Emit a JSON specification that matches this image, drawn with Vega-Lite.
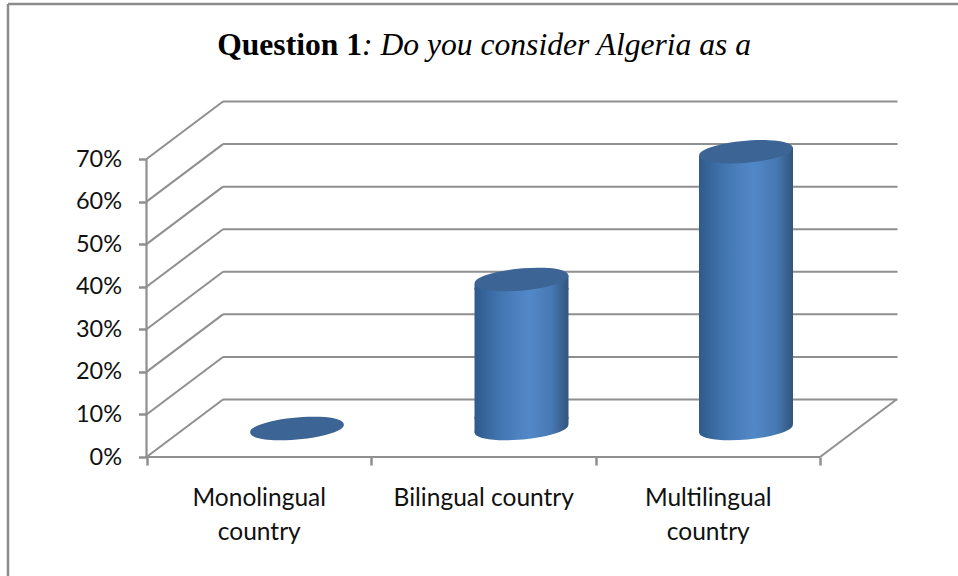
{
  "$schema": "https://vega.github.io/schema/vega-lite/v6.json",
  "width": 958,
  "height": 576,
  "autosize": "none",
  "padding": 0,
  "background": "white",
  "view": {"stroke": null},
  "config": {"font": "Lato"},
  "datasets": {
    "answers": [
      {"category": "Monolingual country", "slot": 0.5, "share": 0},
      {"category": "Bilingual country", "slot": 1.5, "share": 35},
      {"category": "Multilingual country", "slot": 2.5, "share": 65}
    ],
    "levels": [
      {"pct": 0}, {"pct": 10}, {"pct": 20}, {"pct": 30},
      {"pct": 40}, {"pct": 50}, {"pct": 60}, {"pct": 70}
    ]
  },
  "layer": [
    {
      "description": "Back wall lines, pushed up and right by the chart depth",
      "data": {"name": "levels"},
      "mark": {"type": "rule", "color": "#8f8f8f", "strokeWidth": 2, "xOffset": 76.5, "x2Offset": 77.5, "yOffset": -57.5},
      "encoding": {
        "x": {"datum": 0, "type": "quantitative", "scale": {"domain": [-0.6526, 3.6147], "nice": false, "zero": false, "padding": 0},
          "axis": {
            "offset": -119, "orient": "bottom", "title": null, "grid": false, "domain": false,
            "values": [0, 0.5, 1, 1.5, 2, 2.5, 3],
            "tickSize": 8, "tickWidth": 2.5, "tickColor": "#8f8f8f",
            "tickOpacity": {"condition": {"test": "datum.value % 1 === 0", "value": 1}, "value": 0},
            "labelExpr": "datum.value == 0.5 ? ['Monolingual', 'country'] : datum.value == 1.5 ? 'Bilingual country' : datum.value == 2.5 ? ['Multilingual', 'country'] : ''",
            "labelFont": "Lato", "labelFontSize": 24.5, "labelColor": "#111111", "labelPadding": 21, "labelLineHeight": 34, "labelLimit": 400, "labelOverlap": false, "labelFlush": false, "labelBound": false
          }
        },
        "x2": {"datum": 3},
        "y": {"field": "pct", "type": "quantitative", "scale": {"domain": [-27.95, 107.35], "nice": false, "zero": false, "padding": 0},
          "axis": {
            "offset": -146.5, "orient": "left", "title": null, "grid": false, "domain": false,
            "values": [0, 10, 20, 30, 40, 50, 60, 70],
            "tickSize": 8, "tickWidth": 2.5, "tickColor": "#8f8f8f",
            "labelExpr": "datum.value + '%'",
            "labelFont": "Lato", "labelFontSize": 23.5, "labelColor": "#111111", "labelPadding": 17
          }
        }
      }
    },
    {
      "description": "Left wall slants from each front tick to the back wall",
      "data": {"name": "levels"},
      "mark": {"type": "rule", "color": "#8f8f8f", "strokeWidth": 2, "x2Offset": 76.5, "y2Offset": -57.5},
      "encoding": {
        "x": {"datum": 0, "type": "quantitative"},
        "x2": {"datum": 0},
        "y": {"field": "pct", "type": "quantitative"},
        "y2": {"field": "pct"}
      }
    },
    {
      "description": "Front edges of the wall and floor, and the right floor slant",
      "data": {"values": [{"pct": 0}]},
      "layer": [
        {
          "mark": {"type": "rule", "color": "#8f8f8f", "strokeWidth": 2.2},
          "encoding": {"x": {"datum": 0, "type": "quantitative"}, "y": {"datum": 0, "type": "quantitative"}, "y2": {"datum": 70}}
        },
        {
          "mark": {"type": "rule", "color": "#8f8f8f", "strokeWidth": 2.2},
          "encoding": {"x": {"datum": 0, "type": "quantitative"}, "x2": {"datum": 3}, "y": {"datum": 0, "type": "quantitative"}}
        },
        {
          "mark": {"type": "rule", "color": "#8f8f8f", "strokeWidth": 2, "x2Offset": 76.5, "y2Offset": -57.5},
          "encoding": {"x": {"datum": 3, "type": "quantitative"}, "x2": {"datum": 3}, "y": {"datum": 0, "type": "quantitative"}, "y2": {"datum": 0}}
        }
      ]
    },
    {
      "description": "Outer frame",
      "data": {"values": [{"pct": 0}]},
      "layer": [
        {
          "mark": {"type": "rule", "color": "#8c8c8c", "strokeWidth": 2.5},
          "encoding": {"x": {"datum": -0.617, "type": "quantitative"}, "y": {"datum": 106.4, "type": "quantitative"}, "y2": {"datum": -27.95}}
        },
        {
          "mark": {"type": "rule", "color": "#8c8c8c", "strokeWidth": 2.5},
          "encoding": {"x": {"datum": -0.617, "type": "quantitative"}, "x2": {"datum": 3.6147}, "y": {"datum": 106.4, "type": "quantitative"}}
        }
      ]
    },
    {
      "description": "Rounded underside of each cylinder",
      "data": {"name": "answers"},
      "transform": [{"filter": "datum.share > 0"}],
      "mark": {
        "type": "point", "filled": true, "opacity": 1, "size": 8836, "yOffset": -28.5, "xOffset": 38.25,
        "shape": "M -0.995 0.09 A 1 0.226 -5 1 0 0.995 -0.09 A 1 0.226 -5 1 0 -0.995 0.09 Z",
        "color": {"gradient": "linear", "x1": 0, "x2": 1, "y1": 0, "y2": 0, "stops": [
          {"offset": 0, "color": "#2f5a8c"}, {"offset": 0.3, "color": "#4478b4"}, {"offset": 0.58, "color": "#5388c8"}, {"offset": 0.82, "color": "#4679b4"}, {"offset": 1, "color": "#34547c"}
        ]}
      },
      "encoding": {
        "x": {"field": "slot", "type": "quantitative"},
        "y": {"datum": 0, "type": "quantitative"}
      }
    },
    {
      "description": "Slanted band joining each body to its underside",
      "data": {"name": "answers"},
      "transform": [{"filter": "datum.share > 0"}],
      "mark": {
        "type": "point", "filled": true, "opacity": 1, "size": 8836, "yOffset": -28.5, "xOffset": 38.25,
        "shape": "M -1 0.09 L 1 -0.09 L 1 -0.25 L -1 -0.25 Z",
        "color": {"gradient": "linear", "x1": 0, "x2": 1, "y1": 0, "y2": 0, "stops": [
          {"offset": 0, "color": "#2f5a8c"}, {"offset": 0.3, "color": "#4478b4"}, {"offset": 0.58, "color": "#5388c8"}, {"offset": 0.82, "color": "#4679b4"}, {"offset": 1, "color": "#34547c"}
        ]}
      },
      "encoding": {
        "x": {"field": "slot", "type": "quantitative"},
        "y": {"datum": 0, "type": "quantitative"}
      }
    },
    {
      "description": "Cylinder bodies",
      "data": {"name": "answers"},
      "transform": [{"filter": "datum.share > 0"}],
      "mark": {
        "type": "bar", "width": 94, "xOffset": 38.25, "yOffset": -20, "y2Offset": -38,
        "color": {"gradient": "linear", "x1": 0, "x2": 1, "y1": 0, "y2": 0, "stops": [
          {"offset": 0, "color": "#2f5a8c"}, {"offset": 0.3, "color": "#4478b4"}, {"offset": 0.58, "color": "#5388c8"}, {"offset": 0.82, "color": "#4679b4"}, {"offset": 1, "color": "#34547c"}
        ]}
      },
      "encoding": {
        "x": {"field": "slot", "type": "quantitative"},
        "y": {"field": "share", "type": "quantitative"},
        "y2": {"datum": 0}
      }
    },
    {
      "description": "Slanted band joining each body to its lid",
      "data": {"name": "answers"},
      "transform": [{"filter": "datum.share > 0"}],
      "mark": {
        "type": "point", "filled": true, "opacity": 1, "size": 8836, "yOffset": -28.5, "xOffset": 38.25,
        "shape": "M -1 0.09 L 1 -0.09 L 1 0.22 L -1 0.22 Z",
        "color": {"gradient": "linear", "x1": 0, "x2": 1, "y1": 0, "y2": 0, "stops": [
          {"offset": 0, "color": "#2f5a8c"}, {"offset": 0.3, "color": "#4478b4"}, {"offset": 0.58, "color": "#5388c8"}, {"offset": 0.82, "color": "#4679b4"}, {"offset": 1, "color": "#34547c"}
        ]}
      },
      "encoding": {
        "x": {"field": "slot", "type": "quantitative"},
        "y": {"field": "share", "type": "quantitative"}
      }
    },
    {
      "description": "Dark lid of each cylinder, flat on the floor when the share is zero",
      "data": {"name": "answers"},
      "mark": {
        "type": "point", "filled": true, "opacity": 1, "size": 8836, "yOffset": -28.5, "xOffset": 38.25, "color": "#3c6494",
        "shape": "M -0.995 0.09 A 1 0.226 -5 1 1 0.995 -0.09 A 1 0.226 -5 1 1 -0.995 0.09 Z"
      },
      "encoding": {
        "x": {"field": "slot", "type": "quantitative"},
        "y": {"field": "share", "type": "quantitative"}
      }
    },
    {
      "description": "Heading, bold lead-in followed by the italic question",
      "data": {"values": [{"lead": "Question 1", "question": ": Do you consider Algeria as a"}]},
      "layer": [
        {
          "mark": {"type": "text", "font": "Liberation Serif", "fontWeight": "bold", "fontSize": 31.6, "align": "right", "baseline": "alphabetic", "color": "#000000"},
          "encoding": {"x": {"datum": 0.96, "type": "quantitative"}, "y": {"datum": 94.4, "type": "quantitative"}, "text": {"field": "lead"}}
        },
        {
          "mark": {"type": "text", "font": "Liberation Serif", "fontStyle": "italic", "fontSize": 31.6, "align": "left", "baseline": "alphabetic", "color": "#000000"},
          "encoding": {"x": {"datum": 0.96, "type": "quantitative"}, "y": {"datum": 94.4, "type": "quantitative"}, "text": {"field": "question"}}
        }
      ]
    }
  ]
}
